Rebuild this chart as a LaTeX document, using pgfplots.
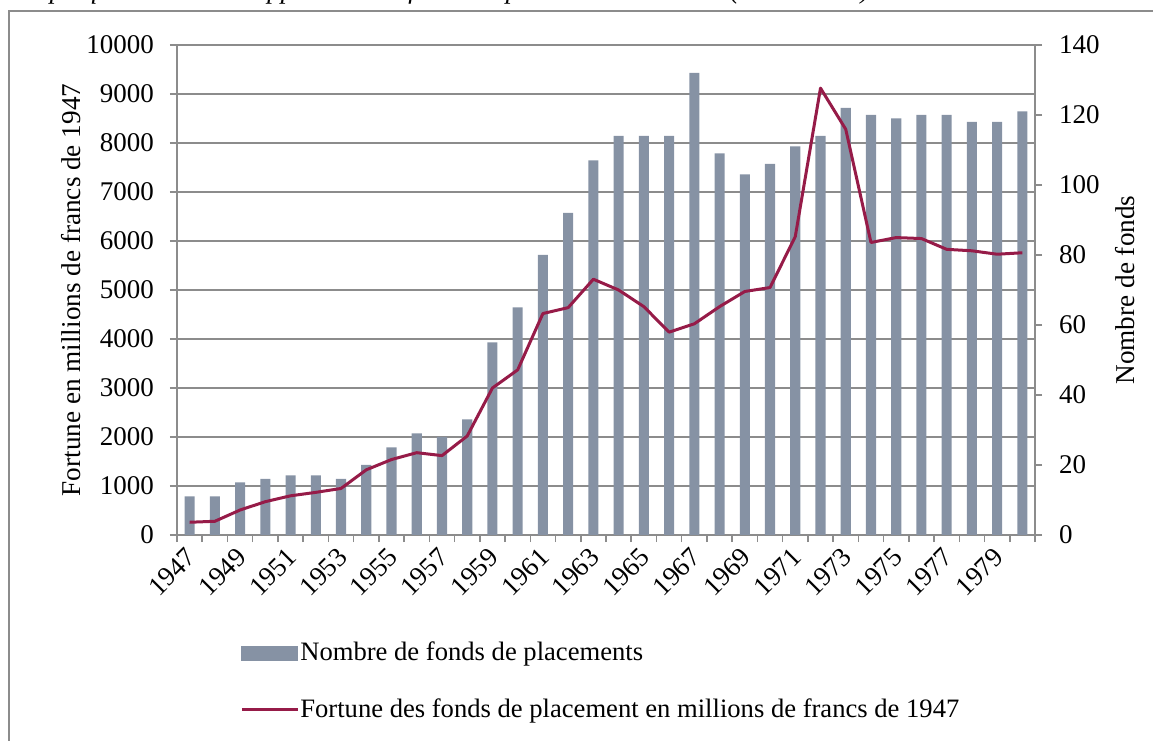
\documentclass[border=0pt]{standalone}
\usepackage{fontspec}
\setmainfont{Liberation Serif}
\usepackage{pgfplots}
\pgfplotsset{compat=1.18}
\definecolor{barc}{RGB}{134,146,164}
\definecolor{linec}{RGB}{150,27,72}
\definecolor{axc}{RGB}{140,140,140}

\pgfplotstableread{
idx bars fortune
0 11 260
1 11 280
2 15 510
3 16 680
4 17 800
5 17 870
6 16 950
7 20 1330
8 25 1540
9 29 1680
10 28 1620
11 33 2020
12 55 3000
13 65 3370
14 80 4520
15 92 4640
16 107 5220
17 114 5000
18 114 4660
19 114 4140
20 132 4310
21 109 4660
22 103 4970
23 106 5050
24 111 6090
25 114 9120
26 122 8280
27 120 5970
28 119 6070
29 120 6050
30 120 5830
31 118 5800
32 118 5730
33 121 5760
}\data

\begin{document}
\begin{tikzpicture}[font=\fontsize{13.5pt}{16pt}\selectfont]
\useasboundingbox (0,0) rectangle (581.5pt,370pt);
\pgfplotsset{
 common/.style={
  scale only axis, width=429pt, height=245pt,
  at={(88.5pt,102.5pt)}, anchor=south west,
  xmin=-0.5, xmax=33.5,
  /pgf/number format/assume math mode=true,
  tick align=outside, major tick length=3.5pt,
  every tick/.style={axc, line width=0.75pt},
  axis line style={axc, line width=0.75pt},
  tick label style={font=\fontsize{13.5pt}{16pt}\selectfont},
  label style={font=\fontsize{13.6pt}{16pt}\selectfont},
 }
}
% title (cut off at the top, as in the reference)
\node[anchor=base west, font=\itshape\fontsize{13.5pt}{16pt}\selectfont, inner sep=0pt] at (3pt,370.8pt) {Graphique 8.1 – Développement des fonds de placement en Suisse (1947–1980)};
% outer frame
\draw[axc, line width=1pt] (4.25pt,-5pt) -- (4.25pt,364.5pt) -- (576.5pt,364.5pt);

% axis A: grid, left axis, x ticks and labels
\begin{axis}[common, ymin=0, ymax=10000, ytick={0,1000,...,10000},
  scaled y ticks=false, yticklabel style={/pgf/number format/1000 sep={}, xshift=-4.5pt},
  ymajorgrids, grid style={axc, line width=0.75pt},
  axis y line*=left, axis x line*=bottom,
  xtick={-0.5,0.5,...,33.5}, xticklabels={},
  extra x ticks={0,2,...,32},
  extra x tick labels={1947,1949,1951,1953,1955,1957,1959,1961,1963,1965,1967,1969,1971,1973,1975,1977,1979},
  extra x tick style={major tick length=0pt, xticklabel style={yshift=-4pt, xshift=-2.5pt, rotate=45, anchor=north east, inner sep=1pt}},
  ylabel={Fortune en millions de francs de 1947},
  ylabel style={at={(axis description cs:-0.124,0.5)}, anchor=center},
]
\addplot[draw=none] coordinates {(0,0)};
\end{axis}

% axis B: bars, right axis
\begin{axis}[common, ymin=0, ymax=140, ytick={0,20,...,140},
  axis y line*=right, axis x line=none,
  yticklabel style={xshift=5pt},
  ylabel={Nombre de fonds},
  ylabel style={at={(axis description cs:1.1045,0.5)}, anchor=center, rotate=0},
]
\addplot[ybar, bar width=0.4, fill=barc, draw=none] table[x=idx, y=bars] {\data};
\end{axis}

% axis C: line and legend
\begin{axis}[common, ymin=0, ymax=10000, hide axis,
  legend style={at={(axis description cs:0.0734,-0.216)}, anchor=north west,
    draw=none, fill=none, inner sep=0pt, row sep=16.5pt,
    font=\fontsize{13.3pt}{16pt}\selectfont,
    nodes={inner sep=0.5pt}},
  legend cell align=left,
]
\addlegendimage{legend image code/.code={\fill[barc] (0pt,-3.5pt) rectangle (28pt,3.5pt);}}
\addlegendentry{Nombre de fonds de placements}
\addplot[linec, line width=1.5pt, line join=round, legend image code/.code={\draw[linec, line width=1.5pt] (0pt,0pt) -- (28pt,0pt);}] table[x=idx, y=fortune] {\data};
\addlegendentry{Fortune des fonds de placement en millions de francs de 1947}
\end{axis}
\end{tikzpicture}
\end{document}
